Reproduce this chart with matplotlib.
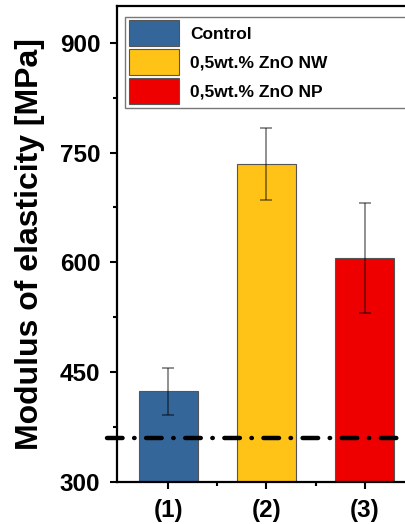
import matplotlib
matplotlib.use("Agg")
import matplotlib.pyplot as plt
from matplotlib.ticker import FixedLocator

plt.rcParams['font.family'] = ['Liberation Sans', 'DejaVu Sans']
plt.rcParams['font.weight'] = 'bold'

# Young's modulus of the three sample groups
categories = ["(1)", "(2)", "(3)"]
series_names = ["Control", "0,5wt.% ZnO NW", "0,5wt.% ZnO NP"]
modulus = [424, 734, 606]
modulus_err = [32, 49, 75]
reference_level = 360
colors = ["#34669A", "#FEC316", "#EE0000"]

fig = plt.figure(figsize=(4.05, 5.24), dpi=100)
ax = fig.add_axes([0.289, 0.080, 0.738, 0.9085])

x = [1, 2, 3]
for xi, val, err, col, name in zip(x, modulus, modulus_err, colors, series_names):
    ax.bar(xi, val - 300, bottom=300, width=0.6, color=col,
           edgecolor="#555555", linewidth=0.8, label=name, zorder=2)
    ax.errorbar(xi, val, yerr=err, fmt="none", ecolor="black", alpha=0.55,
                elinewidth=1.1, capsize=4.5, capthick=1.1, zorder=3)

ax.axhline(reference_level, xmin=-0.035, xmax=1.06, color="black", lw=3.2,
           dashes=(3.5, 2.6, 0.1, 2.6), solid_capstyle="round",
           dash_capstyle="round", clip_on=False, zorder=4)

ax.set_xlim(0.48, 3.52)
ax.set_ylim(300, 950)
ax.set_xticks(x)
ax.set_xticklabels(categories)
ax.xaxis.set_minor_locator(FixedLocator([1.5, 2.5]))
ax.set_yticks([300, 450, 600, 750, 900])
ax.yaxis.set_minor_locator(FixedLocator([375, 525, 675, 825]))

ax.tick_params(axis="both", which="major", direction="out", length=5,
               width=1.5, labelsize=17.5, pad=7)
ax.tick_params(axis="both", which="minor", direction="out", length=3,
               width=1.5)
for lbl in ax.get_xticklabels() + ax.get_yticklabels():
    lbl.set_fontweight("bold")

for sp in ax.spines.values():
    sp.set_linewidth(1.6)

ax.set_ylabel("Modulus of elasticity [MPa]", fontsize=23, fontweight="bold",
              labelpad=11)

leg = ax.legend(loc="upper left", bbox_to_anchor=(0.027, 0.75, 0.99, 0.227),
                mode="expand", fontsize=12.5, handlelength=2.9,
                handleheight=1.92, labelspacing=0.17, borderpad=0.2,
                handletextpad=0.63, borderaxespad=0, fancybox=False,
                framealpha=1, edgecolor="#777777")
leg.get_frame().set_linewidth(1.0)
for t in leg.get_texts():
    t.set_fontweight("bold")

fig.savefig("out.png", dpi=100)
